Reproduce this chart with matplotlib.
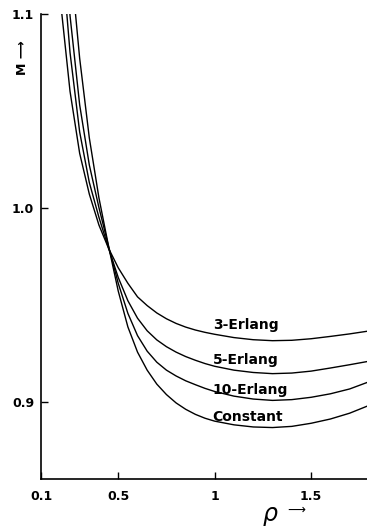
import matplotlib
matplotlib.use("Agg")
import matplotlib.pyplot as plt

# values (rho, M); curves run above 1.1 and get clipped
rho = [0.2, 0.25, 0.3, 0.35, 0.4, 0.45, 0.5, 0.55, 0.6, 0.65, 0.7, 0.75,
       0.8, 0.85, 0.9, 0.95, 1.0, 1.1, 1.2, 1.3, 1.4, 1.5, 1.6, 1.7, 1.8]

m_erlang3 = [1.107, 1.060, 1.028, 1.007, 0.991, 0.979, 0.969, 0.961, 0.954,
             0.9495, 0.9457, 0.9427, 0.9403, 0.9384, 0.9369, 0.9357, 0.9347,
             0.9330, 0.9319, 0.9314, 0.9316, 0.9324, 0.9336, 0.9349, 0.9364]
m_erlang5 = [1.140, 1.080, 1.039, 1.013, 0.995, 0.979, 0.964, 0.952, 0.943,
             0.9365, 0.9318, 0.9283, 0.9255, 0.9232, 0.9213, 0.9196, 0.9182,
             0.9162, 0.9150, 0.9144, 0.9147, 0.9157, 0.9173, 0.9190, 0.9208]
m_erlang10 = [1.170, 1.099, 1.053, 1.022, 1.000, 0.980, 0.961, 0.9455, 0.934,
              0.926, 0.9203, 0.9162, 0.9132, 0.9107, 0.9087, 0.9068, 0.9052,
              0.9028, 0.9013, 0.9006, 0.9010, 0.9022, 0.9040, 0.9065, 0.9102]
m_constant = [1.200, 1.130, 1.077, 1.036, 1.005, 0.980, 0.957, 0.9385, 0.9255,
              0.9162, 0.9090, 0.9036, 0.8993, 0.8960, 0.8934, 0.8914, 0.8899,
              0.8880, 0.8869, 0.8866, 0.8872, 0.8888, 0.8910, 0.8940, 0.8980]

curves = [
    ("3-Erlang", m_erlang3, 0.9397),
    ("5-Erlang", m_erlang5, 0.9216),
    ("10-Erlang", m_erlang10, 0.9062),
    ("Constant", m_constant, 0.8918),
]
label_x = 0.99

x_ticks = [0.1, 0.5, 1.0, 1.5]
x_ticklabels = ["0.1", "0.5", "1", "1.5"]
y_ticks = [0.9, 1.0, 1.1]
y_ticklabels = ["0.9", "1.0", "1.1"]

fig = plt.figure(figsize=(3.67, 5.30), dpi=100)
ax = fig.add_axes([0.112, 0.096, 0.888, 0.878])

for name, vals, ly in curves:
    ax.plot(rho, vals, color="black", lw=1.0)
    ax.text(label_x, ly, name, fontsize=10, fontweight="bold",
            ha="left", va="center")

ax.set_xlim(0.1, 1.79)
ax.set_ylim(0.86, 1.1)

ax.spines["top"].set_visible(False)
ax.spines["right"].set_visible(False)
for s in ("left", "bottom"):
    ax.spines[s].set_linewidth(1.2)

ax.set_xticks(x_ticks)
ax.set_xticklabels(x_ticklabels, fontsize=9, fontweight="bold")
ax.set_yticks(y_ticks)
ax.set_yticklabels(y_ticklabels, fontsize=9, fontweight="bold")
ax.tick_params(axis="x", direction="in", length=5, width=1, pad=8)
ax.tick_params(axis="y", direction="in", length=5, width=1, pad=5)

fig.text(22 / 367, 1 - 58 / 530, "M \u27f6", rotation=90, fontsize=9,
         fontweight="bold", ha="center", va="center")
fig.text(270 / 367, 1 - 516 / 530, r"$\rho$", fontsize=17,
         ha="center", va="center")
fig.text(296 / 367, 1 - 510 / 530, "\u27f6", fontsize=9,
         ha="center", va="center")

fig.savefig("out.png", dpi=100)
